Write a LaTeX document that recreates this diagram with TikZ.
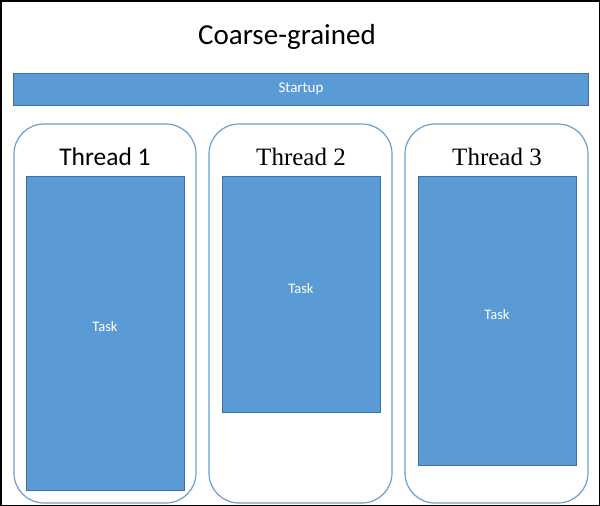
\documentclass[tikz,border=0pt]{standalone}
\usepackage{fontspec}
\setmainfont{Carlito}
\newfontfamily\seriffont{Liberation Serif}
\definecolor{boxblue}{HTML}{5B9BD5}
\definecolor{edgeblue}{HTML}{41719C}
\definecolor{threadline}{HTML}{6A9FD0}
\begin{document}
\begin{tikzpicture}[x=1pt,y=-1pt,
  bluebox/.style={draw=edgeblue,fill=boxblue,line width=0.8pt,inner sep=0pt},
  whitelabel/.style={text=white,inner sep=0pt,font=\fontsize{14.5}{17}\selectfont},
  threadbox/.style={draw=threadline,line width=1.2pt,rounded corners=30pt},
  threadlabel/.style={font=\fontsize{25.5}{30}\selectfont,inner sep=0pt},
  seriflabel/.style={font=\seriffont\fontsize{25}{30}\selectfont,inner sep=0pt}]
\useasboundingbox (0,0) rectangle (600,506);
\draw[line width=1.5pt] (0.75,0.75) rectangle (599.25,505.25);
\node[inner sep=0pt,font=\fontsize{29}{34}\selectfont] (title) at (287,37) {Coarse-grained};
\node[bluebox,minimum width=575pt,minimum height=32pt] (startup) at (300.5,89) {};
\node[whitelabel,font=\fontsize{15}{18}\selectfont] (sl) at (301,89) {Startup};
\draw[threadbox] (14,124) rectangle (196,503);
\draw[threadbox] (209,124) rectangle (392,503);
\draw[threadbox] (405,124) rectangle (588,503);
\node[threadlabel] (t1) at (105,157) {Thread 1};
\node[seriflabel] (t2) at (301,157) {Thread 2};
\node[seriflabel] (t3) at (497,157) {Thread 3};
\node[bluebox,minimum width=158pt,minimum height=314pt] (task1) at (105,333) {};
\node[whitelabel] (l1) at (105,327) {Task};
\node[bluebox,minimum width=158pt,minimum height=236pt] (task2) at (301,294) {};
\node[whitelabel] (l2) at (301,289) {Task};
\node[bluebox,minimum width=158pt,minimum height=289pt] (task3) at (497,320.5) {};
\node[whitelabel] (l3) at (497,315) {Task};
\end{tikzpicture}
\end{document}
